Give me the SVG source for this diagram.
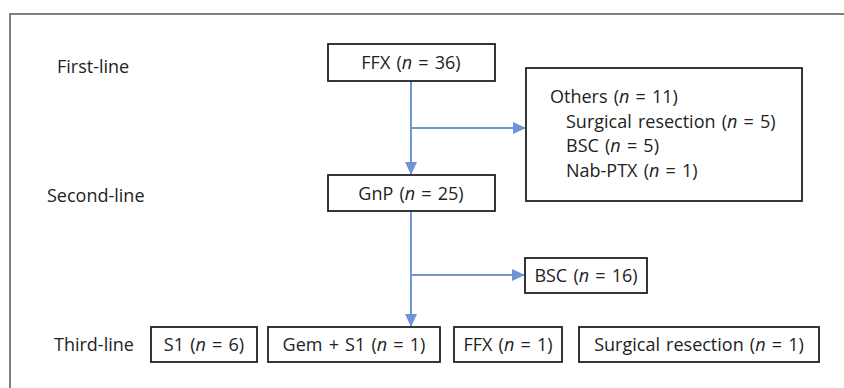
<svg xmlns="http://www.w3.org/2000/svg" width="844" height="388" viewBox="0 0 844 388">
<defs>
<style>
.t{font-family:"Open Sans","Liberation Sans",sans-serif;font-size:18px;fill:#222;word-spacing:1.5px}
.c{text-anchor:middle}
.i{font-style:italic}
.box{fill:#fff;stroke:#222;stroke-width:1.8}
.frame{fill:none;stroke:#555;stroke-width:1.5}
.ln{fill:none;stroke:#7096d4;stroke-width:2}
</style>
<marker id="ah" markerWidth="14" markerHeight="14" refX="12" refY="7" orient="auto" markerUnits="userSpaceOnUse">
<path d="M0,1 L13,7 L0,13 Z" fill="#6f93d6"/>
</marker>
</defs>
<rect width="844" height="388" fill="#fff"/>
<path class="frame" d="M10,388 V14 H844"/>
<g id="labels">
<text class="t" x="57" y="73">First-line</text>
<text class="t" x="47" y="202">Second-line</text>
<text class="t" x="54" y="351">Third-line</text>
</g>
<g id="connectors">
<line class="ln" x1="411" y1="81" x2="411" y2="174" marker-end="url(#ah)"/>
<line class="ln" x1="411" y1="128" x2="525" y2="128" marker-end="url(#ah)"/>
<line class="ln" x1="411" y1="211" x2="411" y2="326" marker-end="url(#ah)"/>
<line class="ln" x1="411" y1="275" x2="524" y2="275" marker-end="url(#ah)"/>
</g>
<g id="ffx36">
<rect class="box" x="328" y="44" width="167" height="37"/>
<text class="t c" x="411" y="69">FFX (<tspan class="i">n</tspan> = 36)</text>
</g>
<g id="others">
<rect class="box" x="526" y="68" width="276" height="133"/>
<text class="t" x="550" y="103">Others (<tspan class="i">n</tspan> = 11)</text>
<text class="t" x="566" y="128">Surgical resection (<tspan class="i">n</tspan> = 5)</text>
<text class="t" x="566" y="152">BSC (<tspan class="i">n</tspan> = 5)</text>
<text class="t" x="566" y="177">Nab-PTX (<tspan class="i">n</tspan> = 1)</text>
</g>
<g id="gnp">
<rect class="box" x="328" y="175" width="167" height="36"/>
<text class="t c" x="411" y="200">GnP (<tspan class="i">n</tspan> = 25)</text>
</g>
<g id="bsc16">
<rect class="box" x="525" y="258" width="122" height="35"/>
<text class="t c" x="586" y="282">BSC (<tspan class="i">n</tspan> = 16)</text>
</g>
<g id="s1">
<rect class="box" x="151" y="327" width="106" height="35"/>
<text class="t c" x="204" y="351">S1 (<tspan class="i">n</tspan> = 6)</text>
</g>
<g id="gems1">
<rect class="box" x="268" y="327" width="172" height="35"/>
<text class="t c" x="354" y="351">Gem + S1 (<tspan class="i">n</tspan> = 1)</text>
</g>
<g id="ffx1">
<rect class="box" x="454" y="327" width="108" height="35"/>
<text class="t c" x="508" y="351">FFX (<tspan class="i">n</tspan> = 1)</text>
</g>
<g id="surg1">
<rect class="box" x="579" y="327" width="240" height="35"/>
<text class="t c" x="699" y="351">Surgical resection (<tspan class="i">n</tspan> = 1)</text>
</g>
</svg>
